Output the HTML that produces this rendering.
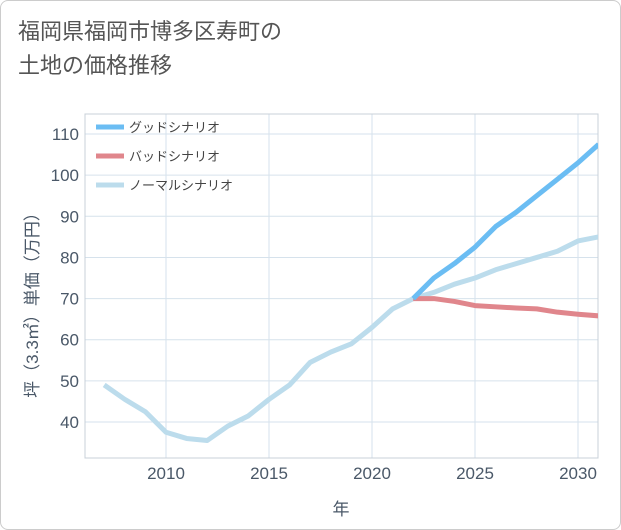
<!DOCTYPE html>
<html><head><meta charset="utf-8"><style>
body{margin:0;background:#fff;font-family:"Liberation Sans","Noto Sans CJK JP",sans-serif;}
#wrap{position:relative;width:619px;height:528px;border:1px solid #ccc;border-radius:8px;overflow:hidden;}
#title{position:absolute;left:17px;top:14px;font-size:22px;line-height:34px;color:#555;}
</style></head><body>
<div id="wrap">
<div id="title">福岡県福岡市博多区寿町の<br>土地の価格推移</div>
<svg id="chart" width="621" height="530" style="position:absolute;left:0;top:0"></svg>
</div>
<script>
const years=[2007,2008,2009,2010,2011,2012,2013,2014,2015,2016,2017,2018,2019,2020,2021,2022,2023,2024,2025,2026,2027,2028,2029,2030,2031];
const normal=[49,45.5,42.5,37.5,36,35.5,39,41.5,45.5,49,54.5,57,59,63,67.5,70,71.5,73.5,75,77,78.5,80,81.5,84,85];
const goodYears=[2022,2023,2024,2025,2026,2027,2028,2029,2030,2031];
const good=[70,75,78.5,82.5,87.5,91,95,99,103,107.5];
const bad=[70,70,69.3,68.3,68,67.7,67.5,66.7,66.2,65.8];
const xTicks=[2010,2015,2020,2025,2030];
const yTicks=[40,50,60,70,80,90,100,110];
const legendNames=["グッドシナリオ","バッドシナリオ","ノーマルシナリオ"];
const colors=["#6bbdf3","#e0868c","#bcdcec"];
const L=84,R=597,T=113,B=457;
const X=v=>165+(v-2010)*20.6;
const Y=v=>421-(v-40)*4.114;
const svg=document.getElementById('chart');
const NS='http://www.w3.org/2000/svg';
function mk(t,a,p){const e=document.createElementNS(NS,t);for(const k in a)e.setAttribute(k,a[k]);(p||svg).appendChild(e);return e;}
for(const t of xTicks){const l=mk('line',{x1:X(t),x2:X(t),y1:T,y2:B,stroke:'#d6e2ec','stroke-width':1});

const tx=mk('text',{x:X(t),y:478,'text-anchor':'middle','font-size':17,fill:'#4a5868'});tx.textContent=t;
}
for(const t of yTicks){const l=mk('line',{x1:L,x2:R,y1:Y(t),y2:Y(t),stroke:'#d6e2ec','stroke-width':1});

const tx=mk('text',{x:78,y:Y(t)+6,'text-anchor':'end','font-size':17,fill:'#4a5868'});tx.textContent=t;
}
const fr=mk('rect',{x:L,y:T,width:R-L,height:B-T,fill:'none',stroke:'#c8d0d8'});

const cp=mk('clipPath',{id:'cp'});mk('rect',{x:L,y:T,width:R-L,height:B-T},cp);
function line(xs,ys,c,name){const p=mk('polyline',{points:xs.map((x,i)=>X(x)+','+Y(ys[i])).join(' '),fill:'none',stroke:c,'stroke-width':5,'stroke-linejoin':'round','clip-path':'url(#cp)'});
}
line(years,normal,colors[2],'normal-line');
line(goodYears,bad,colors[1],'bad-line');
line(goodYears,good,colors[0],'good-line');
legendNames.forEach((n,i)=>{const y=126+i*29;
const l=mk('line',{x1:95,x2:123,y1:y,y2:y,stroke:colors[i],'stroke-width':5});

const t=mk('text',{x:128,y:y+5,'font-size':13,fill:'#444'});t.textContent=n;
});
const xt=mk('text',{x:340,y:514,'text-anchor':'middle','font-size':17,fill:'#4a5868'});xt.textContent='年';

const yt=mk('text',{x:0,y:0,'text-anchor':'middle','font-size':17,fill:'#4a5868',transform:'translate(37,300) rotate(-90)'});yt.textContent='坪（3.3㎡）単価（万円）';

</script>
</body></html>
